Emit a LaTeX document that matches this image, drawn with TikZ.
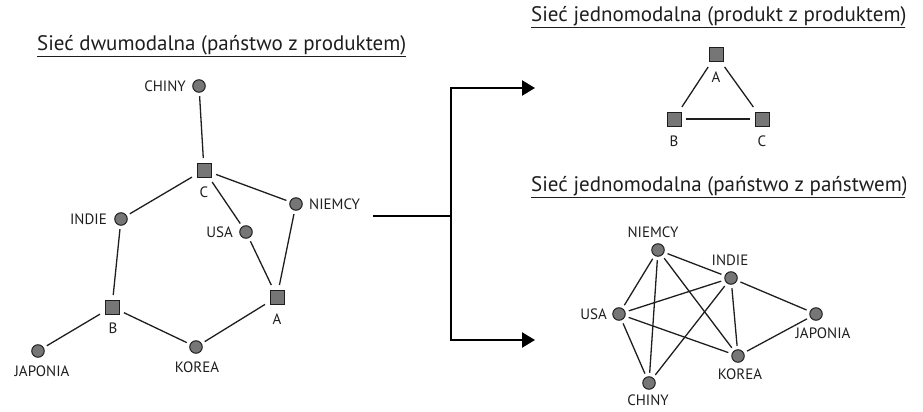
\documentclass[tikz,border=0pt]{standalone}
\usepackage{fontspec}
\setmainfont{PT Sans}
\usetikzlibrary{arrows.meta}
\definecolor{nodegray}{RGB}{118,118,118}
\definecolor{inkcol}{RGB}{30,30,30}
\begin{document}
\begin{tikzpicture}[x=1pt,y=-1pt,
  country/.style={circle,draw=inkcol,fill=nodegray,line width=1pt,
    minimum size=12.5pt,inner sep=0pt,outer sep=4pt},
  product/.style={rectangle,draw=inkcol,fill=nodegray,line width=1pt,
    minimum size=14pt,inner sep=0pt,outer sep=5pt},
  tag/.style={font=\fontsize{15}{17}\selectfont,text=inkcol,inner sep=0pt},
  heading/.style={font=\fontsize{21}{24}\selectfont,text=inkcol,inner sep=0pt,anchor=west},
  link/.style={line width=1.3pt,draw=inkcol},
  flow/.style={line width=2.4pt,draw=black},
  flowtip/.style={flow,-{Triangle[length=13pt,width=15pt]}}]
\useasboundingbox (0,0) rectangle (923,412);

% ---- two-mode network: countries and products ----
\node[heading] (hTwo) at (37,46) {\underline{Sieć dwumodalna (państwo z produktem)}};

\node[country] (chinyL)   at (199,86)  {};
\node[product] (cL)       at (204,170) {};
\node[country] (niemcyL)  at (296,204) {};
\node[country] (usaL)     at (246,232) {};
\node[country] (indieL)   at (121,219) {};
\node[product] (bL)       at (112,307) {};
\node[product] (aL)       at (277,297) {};
\node[country] (koreaL)   at (196,347) {};
\node[country] (japoniaL) at (38,351)  {};

\node[tag,anchor=east] (tChinyL)   at (186,86)  {CHINY};
\node[tag]             (tCL)       at (204,192) {C};
\node[tag,anchor=west] (tNiemcyL)  at (309,204) {NIEMCY};
\node[tag,anchor=east] (tUsaL)     at (233,232) {USA};
\node[tag,anchor=east] (tIndieL)   at (107,219) {INDIE};
\node[tag]             (tBL)       at (113,328) {B};
\node[tag]             (tAL)       at (277,319) {A};
\node[tag]             (tKoreaL)   at (197,367) {KOREA};
\node[tag]             (tJaponiaL) at (42,371)  {JAPONIA};

\draw[link] (chinyL) -- (cL);
\draw[link] (cL) -- (indieL);
\draw[link] (cL) -- (usaL);
\draw[link] (cL) -- (niemcyL);
\draw[link] (indieL) -- (bL);
\draw[link] (usaL) -- (aL);
\draw[link] (niemcyL) -- (aL);
\draw[link] (bL) -- (japoniaL);
\draw[link] (bL) -- (koreaL);
\draw[link] (koreaL) -- (aL);

% ---- projection arrows ----
\coordinate (srcA)  at (373,216);
\coordinate (fork)  at (451,216);
\coordinate (upper) at (451,88);
\coordinate (lower) at (451,340);
\coordinate (upEnd) at (535,88);
\coordinate (loEnd) at (535,340);
\draw[flow] (srcA) -- (fork);
\draw[flow,line cap=rect] (upper) -- (lower);
\draw[flowtip] (upper) -- (upEnd);
\draw[flowtip] (lower) -- (loEnd);

% ---- headings of the one-mode networks, cut at the right margin ----
\begin{scope}
  \clip (0,0) rectangle (905,412);
  \node[heading] (hProd) at (531,17) {\underline{Sieć jednomodalna (produkt z produktem)}};
  \node[heading] (hCountry) at (531,187) {\underline{Sieć jednomodalna (państwo z państwem)}};
\end{scope}

% ---- one-mode network: products ----
\node[product] (aR) at (716,55)  {};
\node[product] (bR) at (674,119) {};
\node[product] (cR) at (762,119) {};
\node[tag] (tAR) at (716,77)  {A};
\node[tag] (tBR) at (674,141) {B};
\node[tag] (tCR) at (762,141) {C};

\draw[link] (aR) -- (bR);
\draw[link] (aR) -- (cR);
\draw[link] (bR) -- (cR);

% ---- one-mode network: countries ----
\node[country] (niemcyR)  at (658,250) {};
\node[country] (indieR)   at (731,278) {};
\node[country] (usaR)     at (619,314) {};
\node[country] (japoniaR) at (816,314) {};
\node[country] (koreaR)   at (738,356) {};
\node[country] (chinyR)   at (649,383) {};

\node[tag]             (tNiemcyR)  at (653,232) {NIEMCY};
\node[tag]             (tIndieR)   at (730,260) {INDIE};
\node[tag,anchor=east] (tUsaR)     at (607,314) {USA};
\node[tag]             (tJaponiaR) at (823,333) {JAPONIA};
\node[tag]             (tKoreaR)   at (740,374) {KOREA};
\node[tag]             (tChinyR)   at (648,400) {CHINY};

\draw[link] (niemcyR) -- (usaR);
\draw[link] (niemcyR) -- (chinyR);
\draw[link] (niemcyR) -- (indieR);
\draw[link] (niemcyR) -- (koreaR);
\draw[link] (indieR) -- (usaR);
\draw[link] (indieR) -- (chinyR);
\draw[link] (indieR) -- (koreaR);
\draw[link] (indieR) -- (japoniaR);
\draw[link] (usaR) -- (koreaR);
\draw[link] (usaR) -- (chinyR);
\draw[link] (koreaR) -- (japoniaR);
\end{tikzpicture}
\end{document}
